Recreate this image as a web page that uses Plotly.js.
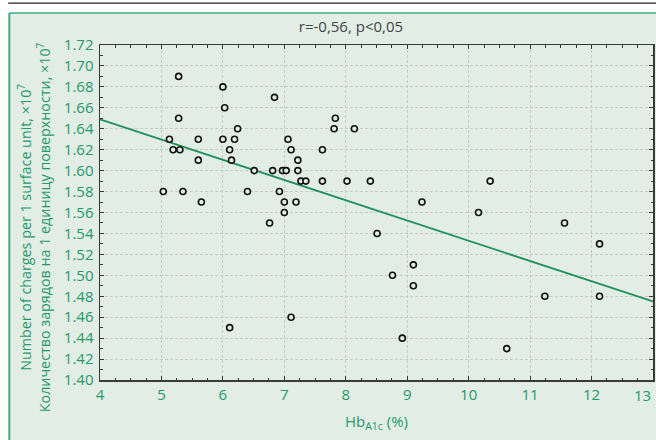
<!DOCTYPE html>
<html>
<head>
<meta charset="utf-8">
<script src="https://cdn.plot.ly/plotly-3.0.1.min.js"></script>
<style>
html,body{margin:0;padding:0;background:#fff;}
#chart{width:656px;height:440px;}
</style>
</head>
<body>
<div id="chart"></div>
<script>
// HbA1c (%) values
var hba1c = [5.03,5.28,5.28,5.13,5.19,5.30,5.35,5.60,5.60,5.65,
             6.00,6.03,6.00,6.19,6.24,6.11,6.14,6.40,6.51,6.81,
             6.84,6.92,6.97,7.03,7.00,7.00,7.06,7.11,7.19,7.22,
             7.22,7.27,7.35,7.62,7.62,7.83,7.81,8.14,8.02,8.40,
             9.24,10.16,10.35,6.76,6.11,7.11,11.56,8.51,12.13,9.10,
             8.76,9.10,11.24,12.13,8.92,10.62];
// Number of charges per surface unit (x10^7)
var charges = [1.58,1.69,1.65,1.63,1.62,1.62,1.58,1.63,1.61,1.57,
               1.68,1.66,1.63,1.63,1.64,1.62,1.61,1.58,1.60,1.60,
               1.67,1.58,1.60,1.60,1.57,1.56,1.63,1.62,1.57,1.61,
               1.60,1.59,1.59,1.62,1.59,1.65,1.64,1.64,1.59,1.59,
               1.57,1.56,1.59,1.55,1.45,1.46,1.55,1.54,1.53,1.51,
               1.50,1.49,1.48,1.48,1.44,1.43];
// Regression line endpoints
var fitX = [4, 13];
var fitY = [1.649, 1.475];

var xTicks = [4,5,6,7,8,9,10,11,12,13];
var yTicks = [1.40,1.42,1.44,1.46,1.48,1.50,1.52,1.54,1.56,1.58,1.60,1.62,1.64,1.66,1.68,1.70,1.72];

var green = '#26996a';
var panel = '#e1ede5';
var FONT = '"Open Sans", "Noto Sans", sans-serif';

var traces = [
  {x: fitX, y: fitY, mode: 'lines', type: 'scatter',
   line: {color: '#1f8f5a', width: 1.8}, hoverinfo: 'skip', showlegend: false},
  {x: hba1c, y: charges, mode: 'markers', type: 'scatter',
   marker: {symbol: 'circle', size: 6, color: panel, line: {color: '#111', width: 1.6}},
   showlegend: false}
];

var axisCommon = {
  showline: true, linecolor: '#3a3a3a', linewidth: 1.5, mirror: 'allticks',
  ticks: 'inside', ticklen: 4, tickcolor: '#3a3a3a', tickwidth: 1,
  showgrid: true, gridcolor: '#c6cbc7', gridwidth: 1, griddash: '3px,2px',
  zeroline: false,
  tickfont: {family: FONT, size: 15, color: green}
};

var lastX = xTicks[xTicks.length - 1];

var layout = {
  width: 656, height: 440,
  margin: {l: 100, r: 3, t: 45, b: 60},
  paper_bgcolor: '#ffffff',
  plot_bgcolor: 'rgba(0,0,0,0)',
  font: {family: FONT},
  title: {text: 'r=-0,56, p&lt;0,05', font: {family: FONT, size: 15, color: '#444'},
          x: 0.535, xanchor: 'center', xref: 'container',
          y: 0.94, yanchor: 'middle', yref: 'container'},
  xaxis: Object.assign({}, axisCommon, {
    range: [4, 13], tickmode: 'array', tickvals: xTicks,
    ticktext: xTicks.map(function(v){ return v === lastX ? ' ' : String(v); }),
    minor: {dtick: 0.25, ticks: 'inside', ticklen: 2.5, tickcolor: '#3a3a3a', showgrid: false},
    title: {text: 'Hb<sub>A1c</sub> (%)', font: {family: FONT, size: 15, color: green}, standoff: 14}
  }),
  yaxis: Object.assign({}, axisCommon, {
    range: [1.40, 1.72], tickmode: 'array', tickvals: yTicks, ticktext: yTicks.map(function(v){return v.toFixed(2);}),
    minor: {dtick: 0.01, ticks: 'inside', ticklen: 2.5, tickcolor: '#3a3a3a', showgrid: false},
    ticklabelstandoff: 2
  }),
  shapes: [
    // green panel
    {type: 'rect', xref: 'paper', yref: 'paper', x0: -0.164, x1: 1.2, y0: -0.3, y1: 1.0955,
     fillcolor: panel, line: {width: 0}, layer: 'below'},
    // green border top & left
    {type: 'line', xref: 'paper', yref: 'paper', x0: -0.164, x1: 1.2, y0: 1.0955, y1: 1.0955,
     line: {color: '#45a97c', width: 1.5}},
    {type: 'line', xref: 'paper', yref: 'paper', x0: -0.164, x1: -0.164, y0: -0.3, y1: 1.0955,
     line: {color: '#45a97c', width: 2}},
    // black rule at top
    {type: 'line', xref: 'paper', yref: 'paper', x0: -0.166, x1: 1.2, y0: 1.125, y1: 1.125,
     line: {color: '#222', width: 1.2}}
  ],
  annotations: [
    {text: 'Number of charges per 1 surface unit, ×10<sup>7</sup>', textangle: -90,
     xref: 'paper', yref: 'paper', x: -0.137, y: 0.455, xanchor: 'center', yanchor: 'middle',
     showarrow: false, font: {family: FONT, size: 14.3, color: green}},
    {text: 'Количество зарядов на 1 единицу поверхности, ×10<sup>7</sup>', textangle: -90,
     xref: 'paper', yref: 'paper', x: -0.102, y: 0.455, xanchor: 'center', yanchor: 'middle',
     showarrow: false, font: {family: FONT, size: 14.3, color: green}},
    // last x tick label, kept inside the page edge as in the reference
    {text: String(lastX), xref: 'x', yref: 'paper', x: lastX, y: 0, xanchor: 'right', yanchor: 'top',
     xshift: -1, yshift: -4, borderpad: 0, showarrow: false, font: {family: FONT, size: 15, color: green}}
  ]
};

Plotly.newPlot('chart', traces, layout, {displayModeBar: false, staticPlot: true});
</script>
</body>
</html>
